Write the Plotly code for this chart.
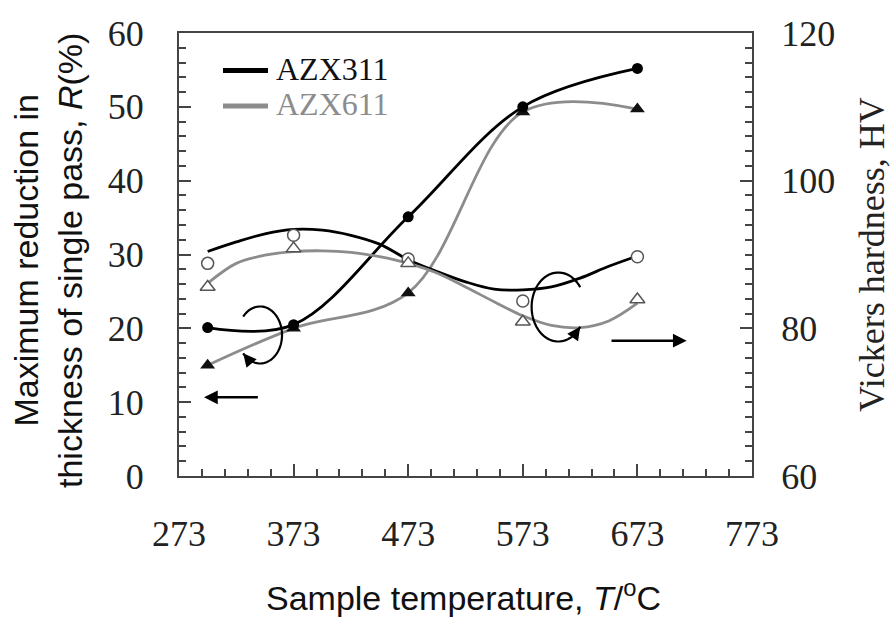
import numpy as np
import plotly.graph_objects as go

# ---------------- data ----------------
temps = [298, 373, 473, 573, 673]
r_azx311 = [20.1, 20.5, 35.1, 50.0, 55.2]
r_azx611 = [15.0, 20.0, 24.8, 49.3, 49.7]
hv_azx311 = [88.8, 92.6, 89.4, 83.7, 89.7]
hv_azx611 = [85.6, 90.8, 88.8, 80.9, 83.9]

# hardness trend curves
trend_temps = [298, 323, 348, 373, 398, 423, 448, 473, 498, 523, 548, 573, 598, 623, 648, 673]
hv_azx311_trend = [90.4, 91.7, 92.8, 93.4, 93.3, 92.6, 91.4, 89.3, 87.7, 86.3, 85.3, 85.2, 85.6, 86.8, 88.4, 89.8]
hv_azx611_trend = [86.1, 88.8, 89.9, 90.4, 90.5, 90.3, 89.7, 88.8, 87.5, 85.6, 83.6, 81.7, 80.4, 80.1, 81.0, 83.4]

series_names = ["AZX311", "AZX611"]
x_ticks = [273, 373, 473, 573, 673, 773]
r_ticks = [0, 10, 20, 30, 40, 50, 60]
hv_ticks = [60, 80, 100, 120]

BLACK = "#000000"
GRAY = "#8c8c8c"
AXIS = "#444444"
SERIF = "Liberation Serif, Times New Roman, serif"
SANS = "Liberation Sans, Arial, sans-serif"

fig = go.Figure()

# ---- hardness (right axis) ----
fig.add_trace(go.Scatter(x=trend_temps, y=hv_azx311_trend, mode="lines", yaxis="y2",
                         line=dict(color=BLACK, width=2.8, shape="spline"), showlegend=False))
fig.add_trace(go.Scatter(x=trend_temps, y=hv_azx611_trend, mode="lines", yaxis="y2",
                         line=dict(color=GRAY, width=2.8, shape="spline"), showlegend=False))
fig.add_trace(go.Scatter(x=temps, y=hv_azx311, mode="markers", yaxis="y2",
                         marker=dict(symbol="circle", size=12, color="white",
                                     line=dict(color="#555555", width=1.5)), showlegend=False))
fig.add_trace(go.Scatter(x=temps, y=hv_azx611, mode="markers", yaxis="y2",
                         marker=dict(symbol="triangle-up", size=13, color="white",
                                     line=dict(color="#555555", width=1.5)), showlegend=False))

# ---- reduction (left axis) ----
fig.add_trace(go.Scatter(x=temps, y=r_azx611, mode="lines+markers", name=series_names[1],
                         line=dict(color=GRAY, width=2.8, shape="spline", smoothing=1.0),
                         marker=dict(symbol="triangle-up", size=13, color="#111111"),
                         showlegend=False))
fig.add_trace(go.Scatter(x=temps, y=r_azx311, mode="lines+markers", name=series_names[0],
                         line=dict(color=BLACK, width=2.8, shape="spline", smoothing=1.0),
                         marker=dict(symbol="circle", size=11, color=BLACK),
                         showlegend=False))

# ---------------- axes ----------------
tick_font = dict(family=SERIF, size=36, color="#222222")
fig.update_layout(
    width=896, height=621, autosize=False,
    margin=dict(l=179, r=144, t=33, b=145),
    paper_bgcolor="white", plot_bgcolor="white",
    xaxis=dict(range=[273, 773], tickmode="array", tickvals=x_ticks,
               ticktext=[str(v) for v in x_ticks],
               showgrid=False, zeroline=False, showline=True, linecolor=AXIS, linewidth=2,
               mirror=True, ticks="inside", ticklen=12, tickwidth=1.5, tickcolor=AXIS,
               minor=dict(ticks="inside", ticklen=7, dtick=20, tick0=273, tickwidth=1.5,
                          tickcolor=AXIS, showgrid=False),
               tickfont=tick_font, ticklabelstandoff=25),
    yaxis=dict(range=[0, 60], tickmode="array", tickvals=r_ticks,
               showgrid=False, zeroline=False, showline=True, linecolor=AXIS, linewidth=2,
               ticks="inside", ticklen=12, tickwidth=1.5, tickcolor=AXIS,
               minor=dict(ticks="inside", ticklen=7, dtick=2, tickwidth=1.5,
                          tickcolor=AXIS, showgrid=False),
               tickfont=tick_font, ticklabelstandoff=26),
    yaxis2=dict(range=[60, 120], tickmode="array", tickvals=hv_ticks, overlaying="y", side="right",
                showgrid=False, zeroline=False, showline=True, linecolor=AXIS, linewidth=2,
                ticks="inside", ticklen=12, tickwidth=1.5, tickcolor=AXIS,
                minor=dict(ticks="inside", ticklen=7, dtick=2, tickwidth=1.5,
                           tickcolor=AXIS, showgrid=False),
                tickfont=tick_font, ticklabelstandoff=20),
    showlegend=False,
)

# ---------------- titles ----------------
PW, PH, L, T = 573.0, 443.0, 179.0, 33.0


def px2paper(px, py):
    return (px - L) / PW, (T + PH - py) / PH


annotations = []
x, y = px2paper(48, 261)
annotations.append(dict(text="Maximum reduction in<br>thickness of single pass, <i>R</i>(%)",
                        xref="paper", yref="paper", x=x, y=y, xanchor="center", yanchor="middle",
                        textangle=-90, showarrow=False,
                        font=dict(family=SANS, size=34, color="#111111")))
x, y = px2paper(872, 255)
annotations.append(dict(text="Vickers hardness, HV", xref="paper", yref="paper", x=x, y=y,
                        xanchor="center", yanchor="middle", textangle=-90, showarrow=False,
                        font=dict(family=SERIF, size=36, color="#222222")))
x, y = px2paper(463, 595)
annotations.append(dict(text="Sample temperature, <i>T</i>/<sup>o</sup>C", xref="paper", yref="paper",
                        x=x, y=y, xanchor="center", yanchor="middle", showarrow=False,
                        font=dict(family=SANS, size=34, color="#111111")))

# ---------------- manual legend ----------------
shapes = []
for name, col, py in [(series_names[0], BLACK, 70.5), (series_names[1], GRAY, 106.0)]:
    x0, yy = px2paper(223, py)
    x1, _ = px2paper(268, py)
    shapes.append(dict(type="line", xref="paper", yref="paper", x0=x0, x1=x1, y0=yy, y1=yy,
                       line=dict(color=col, width=5)))
    tx, ty = px2paper(274, py - 2)
    annotations.append(dict(text=name, xref="paper", yref="paper", x=tx, y=ty, xanchor="left",
                            yanchor="middle", showarrow=False, height=34,
                            font=dict(family=SERIF, size=32, color=col if col != BLACK else "#111111")))


# ---------------- circular arrows ----------------
def ellipse_path(cx, cy, rx, ry, t0, t1, n=80):
    th = np.radians(np.linspace(t0, t1, n))
    xs = cx + rx * np.cos(th)
    ys = cy + ry * np.sin(th)
    return "M " + " L ".join(f"{a:.3f},{b:.3f}" for a, b in zip(xs, ys))


for (cx, cy, rx, ry, t0, t1) in [(343.7, 19.10, 19.2, 3.86, 140, -140),
                                 (604.0, 22.89, 23.3, 4.67, 35, 325)]:
    shapes.append(dict(type="path", xref="x", yref="y", path=ellipse_path(cx, cy, rx, ry, t0, t1),
                       line=dict(color=BLACK, width=2.2)))
    step = 14 if t1 > t0 else -14
    tip = (cx + rx * np.cos(np.radians(t1)), cy + ry * np.sin(np.radians(t1)))
    tail = (cx + rx * np.cos(np.radians(t1 - step)), cy + ry * np.sin(np.radians(t1 - step)))
    annotations.append(dict(x=tip[0], y=tip[1], ax=tail[0], ay=tail[1], xref="x", yref="y",
                            axref="x", ayref="y", text="", showarrow=True, arrowhead=2,
                            arrowsize=1.2, arrowwidth=2.2, arrowcolor=BLACK, standoff=0))

# ---------------- straight arrows ----------------
for (tx0, tx1, yy) in [(343.1, 294.8, 10.66), (649.1, 716.0, 18.33)]:
    annotations.append(dict(x=tx1, y=yy, ax=tx0, ay=yy, xref="x", yref="y", axref="x", ayref="y",
                            text="", showarrow=True, arrowhead=2, arrowsize=1.1, arrowwidth=2.5,
                            arrowcolor=BLACK, standoff=0))

fig.update_layout(annotations=annotations, shapes=shapes)
fig.write_html("out.html", config={"displayModeBar": False},
               post_script="document.body.style.margin='0px';document.body.style.padding='0px';")
